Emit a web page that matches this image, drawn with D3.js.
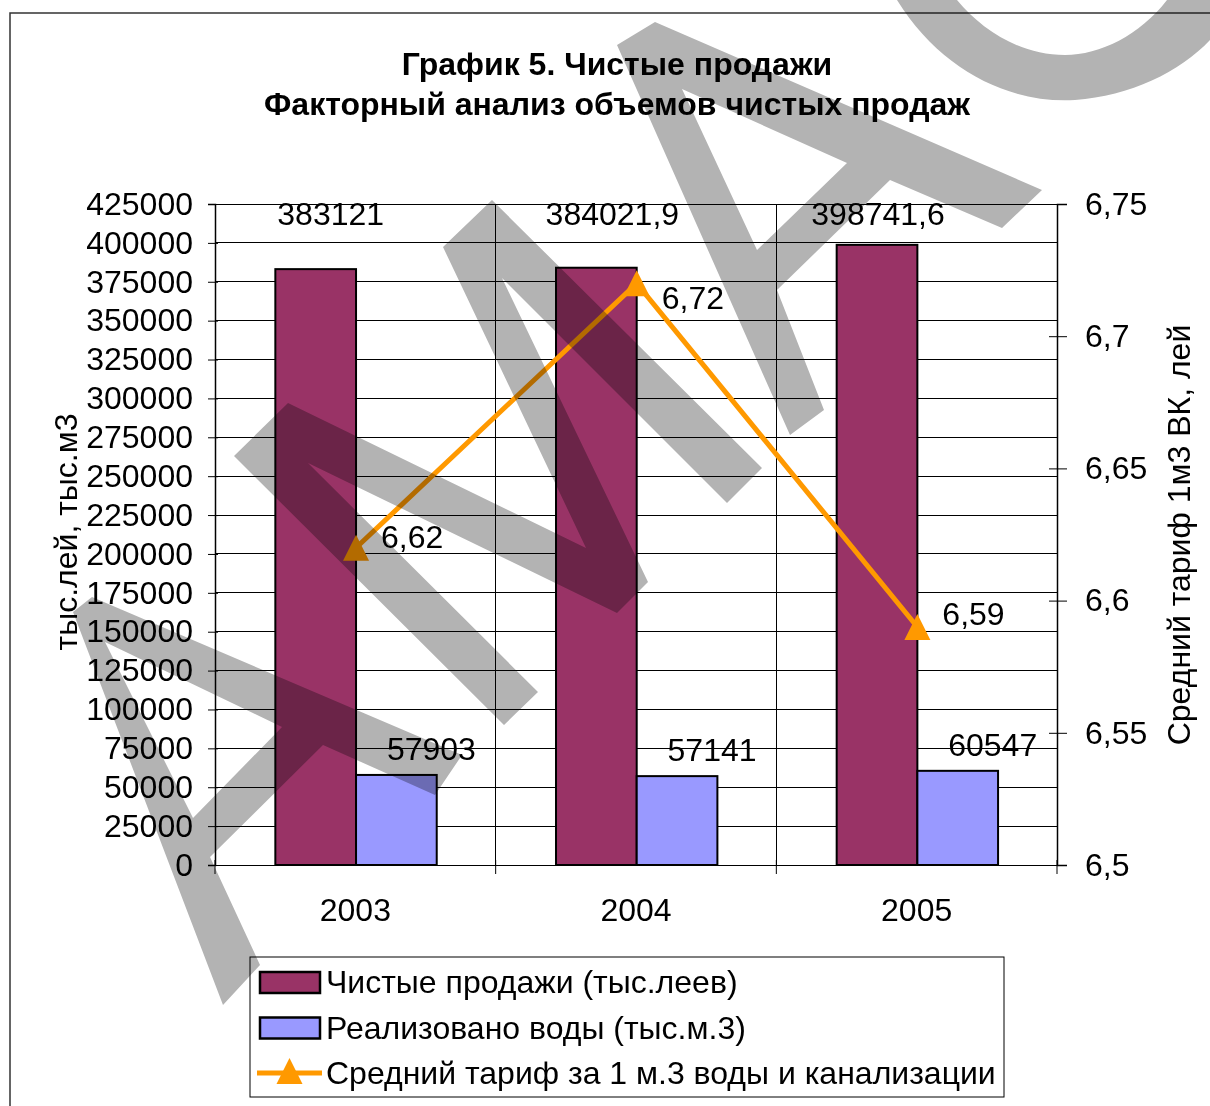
<!DOCTYPE html>
<html>
<head>
<meta charset="utf-8">
<script src="https://cdn.jsdelivr.net/npm/d3@7/dist/d3.min.js"></script>
<style>
  body { margin: 0; background: #fff; }
  svg { display: block; font-family: "Liberation Sans", Arial, sans-serif; }
</style>
</head>
<body>
<div id="chart"></div>
<script>
// chart values
var years = ["2003", "2004", "2005"];
var salesValues = [383121, 384021.9, 398741.6];
var waterValues = [57903, 57141, 60547];
var tariffValues = [6.62, 6.72, 6.59];
var salesLabels = ["383121", "384021,9", "398741,6"];
var waterLabels = ["57903", "57141", "60547"];
var tariffLabels = ["6,62", "6,72", "6,59"];
var leftTicks = d3.range(0, 425001, 25000);
var rightTicks = [6.5, 6.55, 6.6, 6.65, 6.7, 6.75];
var seriesNames = [
    "Чистые продажи (тыс.леев)",
    "Реализовано воды (тыс.м.3)",
    "Средний тариф за 1 м.3 воды и канализации"
];

// label nudges, as placed by hand in the original
var salesLabelDx = [15, 16, 1];
var tariffLabelDy = [0, 26, -2];

var W = 1210, H = 1106;
var FS = 32;
var plot = {left: 215, right: 1057, top: 204, bottom: 865};
var colors = {sales: "#993366", water: "#9999ff", tariff: "#ff9900"};

var svg = d3.select("#chart").append("svg")
    .attr("width", W)
    .attr("height", H);

svg.append("rect").attr("width", W).attr("height", H).attr("fill", "#fff");

// chart area border (only top and left are in view)
svg.append("path")
    .attr("d", "M10,1106 L10,13 L1210,13")
    .attr("fill", "none")
    .attr("stroke", "#333")
    .attr("stroke-width", 1.5);

// title
var title = svg.append("text")
    .attr("text-anchor", "middle")
    .attr("font-weight", "bold")
    .attr("font-size", 32);
title.append("tspan").attr("x", 617).attr("y", 75).text("График 5. Чистые продажи");
title.append("tspan").attr("x", 617).attr("y", 115).text("Факторный анализ объемов чистых продаж");

var x = d3.scaleBand().domain(years).range([plot.left, plot.right]).padding(0);
var bw = x.bandwidth();
var xInner = d3.scaleBand().domain(["sales", "water"]).range([bw * 0.215, bw * 0.79]).padding(0);
var yL = d3.scaleLinear().domain([0, 425000]).range([plot.bottom, plot.top]);
var yR = d3.scaleLinear().domain([6.5, 6.75]).range([plot.bottom, plot.top]);

var fmtComma = function (v) { return d3.format(".2~f")(v).replace(".", ","); };

// gridlines
var grid = svg.append("g").attr("stroke", "#000").attr("stroke-width", 1).attr("shape-rendering", "crispEdges");
grid.selectAll("line.h").data(leftTicks).enter().append("line")
    .attr("x1", plot.left).attr("x2", plot.right)
    .attr("y1", function (d) { return yL(d); })
    .attr("y2", function (d) { return yL(d); });
grid.selectAll("line.v").data(years.slice(1)).enter().append("line")
    .attr("x1", function (d) { return x(d); })
    .attr("x2", function (d) { return x(d); })
    .attr("y1", plot.top).attr("y2", plot.bottom);

// left axis
var leftAxis = svg.append("g")
    .attr("transform", "translate(" + plot.left + ",0)")
    .call(d3.axisLeft(yL).tickValues(leftTicks).tickSize(7).tickPadding(15).tickFormat(d3.format("d")));
leftAxis.selectAll("line").attr("x2", -7).attr("x1", 3);

// right axis
var rightAxis = svg.append("g")
    .attr("transform", "translate(" + plot.right + ",0)")
    .call(d3.axisRight(yR).tickValues(rightTicks).tickSize(10).tickPadding(18).tickFormat(fmtComma));
rightAxis.selectAll("line").attr("x1", -8);

// bottom axis
var bottomAxis = svg.append("g")
    .attr("transform", "translate(0," + plot.bottom + ")")
    .call(d3.axisBottom(x).tickSize(0).tickPadding(56));
bottomAxis.selectAll(".tick line").remove();
svg.append("g").selectAll("line").data(years.concat(["end"])).enter().append("line")
    .attr("x1", function (d, i) { return i < years.length ? x(d) : plot.right; })
    .attr("x2", function (d, i) { return i < years.length ? x(d) : plot.right; })
    .attr("y1", plot.bottom - 5).attr("y2", plot.bottom + 9)
    .attr("stroke", "#000").attr("stroke-width", 1);

[leftAxis, rightAxis, bottomAxis].forEach(function (ax) {
    ax.select(".domain").attr("stroke", "#000").attr("stroke-width", 1.5);
    ax.selectAll("line").attr("stroke", "#000");
    ax.selectAll("text").attr("font-size", FS).attr("fill", "#000")
        .attr("font-family", "'Liberation Sans', Arial, sans-serif");
});
bottomAxis.select(".domain").remove();
bottomAxis.selectAll("text").attr("dy", 0);

// axis titles
svg.append("text")
    .attr("transform", "translate(77,532) rotate(-90)")
    .attr("text-anchor", "middle")
    .attr("font-size", FS)
    .text("тыс.лей, тыс.м3");
svg.append("text")
    .attr("transform", "translate(1190,535) rotate(-90)")
    .attr("text-anchor", "middle")
    .attr("font-size", FS)
    .text("Средний тариф 1м3 ВК, лей");

// bars
var barGroups = svg.append("g").selectAll("g").data(years).enter().append("g")
    .attr("transform", function (d) { return "translate(" + x(d) + ",0)"; });
barGroups.append("rect")
    .attr("x", xInner("sales"))
    .attr("width", xInner.bandwidth())
    .attr("y", function (d, i) { return yL(salesValues[i]); })
    .attr("height", function (d, i) { return yL(0) - yL(salesValues[i]); })
    .attr("fill", colors.sales).attr("stroke", "#000").attr("stroke-width", 2);
barGroups.append("rect")
    .attr("x", xInner("water"))
    .attr("width", xInner.bandwidth())
    .attr("y", function (d, i) { return yL(waterValues[i]); })
    .attr("height", function (d, i) { return yL(0) - yL(waterValues[i]); })
    .attr("fill", colors.water).attr("stroke", "#000").attr("stroke-width", 2);

// bar labels
barGroups.append("text")
    .attr("x", function (d, i) { return xInner("sales") + xInner.bandwidth() / 2 + salesLabelDx[i]; })
    .attr("y", yL(425000) + 21)
    .attr("text-anchor", "middle").attr("font-size", FS)
    .text(function (d, i) { return salesLabels[i]; });
barGroups.append("text")
    .attr("x", xInner("water") + xInner.bandwidth() / 2 + 35)
    .attr("y", function (d, i) { return yL(waterValues[i]) - 15; })
    .attr("text-anchor", "middle").attr("font-size", FS)
    .text(function (d, i) { return waterLabels[i]; });

// tariff line
var px = function (d, i) { return x(years[i]) + xInner("water"); };
var line = d3.line().x(px).y(function (d) { return yR(d); });
svg.append("path")
    .datum(tariffValues)
    .attr("d", line)
    .attr("fill", "none").attr("stroke", colors.tariff).attr("stroke-width", 5);

var triangle = "M0,-13L13,13L-13,13Z";
svg.append("g").selectAll("path").data(tariffValues).enter().append("path")
    .attr("d", triangle)
    .attr("transform", function (d, i) { return "translate(" + px(d, i) + "," + yR(d) + ")"; })
    .attr("fill", colors.tariff);
svg.append("g").selectAll("text").data(tariffValues).enter().append("text")
    .attr("x", function (d, i) { return px(d, i) + 25; })
    .attr("y", function (d, i) { return yR(d) + tariffLabelDy[i]; })
    .attr("font-size", FS)
    .text(function (d, i) { return tariffLabels[i]; });

// legend
var legend = svg.append("g");
legend.append("rect")
    .attr("x", 250).attr("y", 957).attr("width", 754).attr("height", 140)
    .attr("fill", "#fff").attr("stroke", "#000").attr("stroke-width", 1);
var rows = legend.selectAll("g").data(seriesNames).enter().append("g")
    .attr("transform", function (d, i) { return "translate(0," + (982 + i * 45.5) + ")"; });
rows.filter(function (d, i) { return i < 2; }).append("rect")
    .attr("x", 260).attr("y", -10).attr("width", 60).attr("height", 21)
    .attr("fill", function (d, i) { return i === 0 ? colors.sales : colors.water; })
    .attr("stroke", "#000").attr("stroke-width", 2.5);
var tRow = rows.filter(function (d, i) { return i === 2; });
tRow.append("line")
    .attr("x1", 257).attr("x2", 322).attr("y1", 0).attr("y2", 0)
    .attr("stroke", colors.tariff).attr("stroke-width", 5);
tRow.append("path").attr("d", triangle).attr("transform", "translate(289.5,-2)").attr("fill", colors.tariff);
rows.append("text")
    .attr("x", 326).attr("y", 11)
    .attr("font-size", FS)
    .text(function (d) { return d; });

// grey watermark laid over the whole picture
var wmShapes = [
    [[[223, 1005], [73, 612], [92, 597], [462, 755], [435, 795], [323, 745], [210, 857], [260, 965]],
     [[105, 642], [282, 727], [193, 818]]],
    [[[234, 456], [288, 403], [586, 548], [443, 247], [492, 200], [762, 468], [727, 503], [502, 278],
      [648, 582], [617, 613], [308, 463], [538, 692], [504, 725]]],
    [[[617, 45], [655, 22], [1042, 190], [1002, 228], [890, 180], [777, 290], [824, 410], [790, 435]],
     [[682, 89], [847, 163], [757, 250]]]
];
var ring = d3.line();
var wm = svg.append("g").style("mix-blend-mode", "multiply");
wm.selectAll("path.wm").data(wmShapes).enter().append("path")
    .attr("d", function (rings) { return rings.map(function (r) { return ring(r) + "Z"; }).join(""); })
    .attr("fill-rule", "evenodd")
    .attr("fill", "#b3b3b3")
    .style("mix-blend-mode", "multiply");
wm.append("path")
    .attr("d", "M897,0 C940,70 1010,104 1075,100 C1130,96 1180,72 1210,40 L1210,0 L1167,0 C1140,35 1100,55 1065,55 C1020,55 982,30 957,0 Z")
    .attr("fill", "#b3b3b3")
    .style("mix-blend-mode", "multiply");
</script>
</body>
</html>
